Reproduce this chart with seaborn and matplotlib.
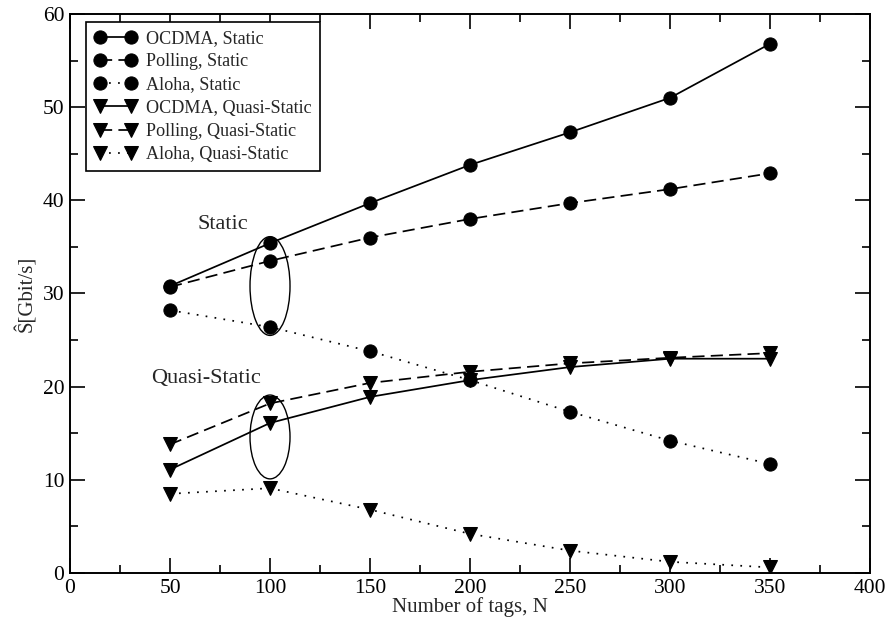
import matplotlib
matplotlib.use("Agg")
import matplotlib.pyplot as plt
from matplotlib.patches import Ellipse
from matplotlib.ticker import MultipleLocator
import seaborn as sns
import pandas as pd

tags = [50, 100, 150, 200, 250, 300, 350]
ocdma_static = [30.8, 35.4, 39.7, 43.8, 47.3, 51.0, 56.8]
polling_static = [30.7, 33.5, 36.0, 38.0, 39.7, 41.2, 42.9]
aloha_static = [28.2, 26.4, 23.8, 20.7, 17.3, 14.2, 11.7]
ocdma_qs = [11.1, 16.1, 18.9, 20.7, 22.1, 23.0, 23.0]
polling_qs = [13.8, 18.2, 20.4, 21.6, 22.5, 23.1, 23.6]
aloha_qs = [8.5, 9.1, 6.8, 4.2, 2.4, 1.2, 0.6]

labels = ["OCDMA, Static", "Polling, Static", "Aloha, Static",
          "OCDMA, Quasi-Static", "Polling, Quasi-Static", "Aloha, Quasi-Static"]
series = [ocdma_static, polling_static, aloha_static, ocdma_qs, polling_qs, aloha_qs]

sns.set_theme(style="ticks")
plt.rcParams["font.family"] = ["Liberation Serif", "DejaVu Serif"]
plt.rcParams["axes.linewidth"] = 1.4

fig = plt.figure(figsize=(8.94, 6.30), dpi=100)
ax = fig.add_axes([0.0783, 0.0905, 0.8949, 0.8873])

lw = 1.25
styles = ["-", (0, (7, 3.6)), (0, (1, 4.2))] * 2
markers = ["o"] * 3 + ["v"] * 3
for lab, vals, ls, mk in zip(labels, series, styles, markers):
    df = pd.DataFrame({"N": tags, "S": vals})
    sns.lineplot(data=df, x="N", y="S", ax=ax, color="black", linewidth=lw,
                 linestyle=ls, marker=mk, markersize=9.5 if mk == "o" else 10,
                 markeredgecolor="black", markerfacecolor="black",
                 label=lab)

ax.set_xlim(0, 400)
ax.set_ylim(0, 60)
ax.xaxis.set_major_locator(MultipleLocator(50))
ax.xaxis.set_minor_locator(MultipleLocator(25))
ax.yaxis.set_major_locator(MultipleLocator(10))
ax.yaxis.set_minor_locator(MultipleLocator(5))
ax.tick_params(which="both", direction="in", top=True, right=True,
               labelsize=15.5, colors="black", width=1.2)
ax.tick_params(which="major", length=11, pad=4)
ax.tick_params(which="minor", length=6)
for s in ax.spines.values():
    s.set_color("black")
    s.set_linewidth(1.4)

ax.set_xlabel("Number of tags, N", fontsize=15, labelpad=0)
ax.set_ylabel("Ŝ[Gbit/s]", fontsize=15, labelpad=4)

ax.add_patch(Ellipse((100, 30.8), 20, 10.6, fill=False, edgecolor="black", linewidth=1.0))
ax.add_patch(Ellipse((100, 14.6), 20, 9.0, fill=False, edgecolor="black", linewidth=1.0))
ax.text(63.5, 37.4, "Static", fontsize=16, ha="left", va="center")
ax.text(40.5, 20.9, "Quasi-Static", fontsize=16, ha="left", va="center")

leg = ax.legend(loc="upper left", bbox_to_anchor=(0.02, 0.9857), borderaxespad=0,
                numpoints=2, fontsize=13.1, frameon=True,
                fancybox=False, edgecolor="black", framealpha=1,
                handlelength=2.35, handletextpad=0.5,
                labelspacing=0.34, borderpad=0.45)
leg.get_frame().set_linewidth(1.2)

fig.savefig("out.png", dpi=100)
